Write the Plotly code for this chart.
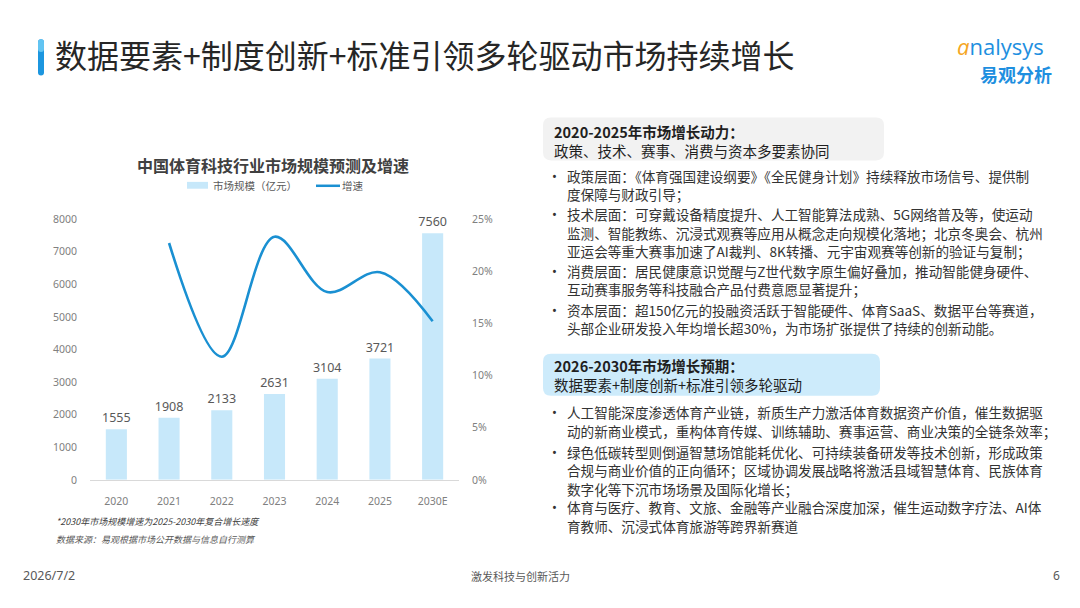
import plotly.graph_objects as go

W, H = 1080, 608

# ---------------- data ----------------
years = ["2020", "2021", "2022", "2023", "2024", "2025", "2030E"]
market_size = [1555, 1908, 2133, 2631, 3104, 3721, 7560]
growth_years = ["2021", "2022", "2023", "2024", "2025", "2030E"]
growth_rate = [0.227, 0.118, 0.233, 0.180, 0.199, 0.152]
left_ticks = [0, 1000, 2000, 3000, 4000, 5000, 6000, 7000, 8000]
right_ticks = [0, 0.05, 0.10, 0.15, 0.20, 0.25]

page_title = "数据要素+制度创新+标准引领多轮驱动市场持续增长"
chart_title = "中国体育科技行业市场规模预测及增速"
legend_bar = "市场规模（亿元）"
legend_line = "增速"
note1 = "*2030年市场规模增速为2025-2030年复合增长速度"
note2 = "数据来源：易观根据市场公开数据与信息自行测算"

box1_head = "2020-2025年市场增长动力："
box1_sub = "政策、技术、赛事、消费与资本多要素协同"
list1 = [
    (True, "政策层面：《体育强国建设纲要》《全民健身计划》持续释放市场信号、提供制"),
    (False, "度保障与财政引导；"),
    (True, "技术层面：可穿戴设备精度提升、人工智能算法成熟、5G网络普及等，使运动"),
    (False, "监测、智能教练、沉浸式观赛等应用从概念走向规模化落地；北京冬奥会、杭州"),
    (False, "亚运会等重大赛事加速了AI裁判、8K转播、元宇宙观赛等创新的验证与复制；"),
    (True, "消费层面：居民健康意识觉醒与Z世代数字原生偏好叠加，推动智能健身硬件、"),
    (False, "互动赛事服务等科技融合产品付费意愿显著提升；"),
    (True, "资本层面：超150亿元的投融资活跃于智能硬件、体育SaaS、数据平台等赛道，"),
    (False, "头部企业研发投入年均增长超30%，为市场扩张提供了持续的创新动能。"),
]
list1_y = [173, 191.5, 212, 231, 250, 270, 289, 310.5, 329]

box2_head = "2026-2030年市场增长预期："
box2_sub = "数据要素+制度创新+标准引领多轮驱动"
list2 = [
    (True, "人工智能深度渗透体育产业链，新质生产力激活体育数据资产价值，催生数据驱"),
    (False, "动的新商业模式，重构体育传媒、训练辅助、赛事运营、商业决策的全链条效率；"),
    (True, "绿色低碳转型则倒逼智慧场馆能耗优化、可持续装备研发等技术创新，形成政策"),
    (False, "合规与商业价值的正向循环；区域协调发展战略将激活县域智慧体育、民族体育"),
    (False, "数字化等下沉市场场景及国际化增长；"),
    (True, "体育与医疗、教育、文旅、金融等产业融合深度加深，催生运动数字疗法、AI体"),
    (False, "育教师、沉浸式体育旅游等跨界新赛道"),
]
list2_y = [415, 434, 455, 474, 493, 512, 531]

footer_date = "2026/7/2"
footer_mid = "激发科技与创新活力"
footer_page = "6"

# ---------------- style ----------------
CJK = "Noto Sans CJK SC"
BAR_C = "#C7E8FA"
LINE_C = "#1A90D2"
TXT = "#2B2B2B"
AX = "#808080"
BODY = 13.6


def px(x):
    return x / W


def py(y):
    return 1 - y / H


fig = go.Figure()

fig.add_trace(go.Bar(
    x=years, y=market_size, marker=dict(color=BAR_C, line=dict(width=0)),
    width=0.4, text=[str(v) for v in market_size], textposition="outside",
    constraintext="none",
    textfont=dict(family="Noto Sans", size=12.5, color="#595959"),
    cliponaxis=False, yaxis="y", showlegend=False,
))
fig.add_trace(go.Scatter(
    x=growth_years, y=growth_rate, mode="lines",
    line=dict(color=LINE_C, width=2.6, shape="spline", smoothing=1.0),
    yaxis="y2", showlegend=False,
))

ann = []
shapes = []


def text(x, y, s, size, color=TXT, bold=False, anchor="left", italic=False,
         family=CJK, yanchor="middle"):
    st = "<b>%s</b>" % s if bold else s
    if italic:
        st = "<i>%s</i>" % st
    ann.append(dict(x=px(x), y=py(y), xref="paper", yref="paper", text=st,
                    showarrow=False, xanchor=anchor, yanchor=yanchor, align="left",
                    borderpad=0,
                    font=dict(family=family, size=size, color=color)))


def rrect(x0, y0, x1, y1, r, fill):
    def P(x, y):
        return "%.5f,%.5f" % (px(x), py(y))
    path = ("M" + P(x0 + r, y0) + " L" + P(x1 - r, y0) + " Q" + P(x1, y0) + " " + P(x1, y0 + r) +
            " L" + P(x1, y1 - r) + " Q" + P(x1, y1) + " " + P(x1 - r, y1) +
            " L" + P(x0 + r, y1) + " Q" + P(x0, y1) + " " + P(x0, y1 - r) +
            " L" + P(x0, y0 + r) + " Q" + P(x0, y0) + " " + P(x0 + r, y0) + " Z")
    shapes.append(dict(type="path", path=path, xref="paper", yref="paper",
                       fillcolor=fill, line=dict(width=0), layer="below"))


# page title + accent bar
rrect(38, 33, 44, 70, 3, "#1C96DF")
rrect(38, 33, 44, 46, 3, "#62C4F2")
text(54, 48, page_title, 32, color="#262626")

# logo
ann.append(dict(x=px(956), y=py(40), xref="paper", yref="paper", showarrow=False,
                xanchor="left", yanchor="middle", borderpad=0,
                text="<span style='color:#F5A623'><i>a</i></span><span style='color:#1E8FE0'>nalysys</span>",
                font=dict(family="Open Sans", size=22)))
text(1016, 68.5, "易观分析", 18, color="#1E8FE0", bold=True, anchor="center")

# chart title + legend
text(273, 162, chart_title, 16, color="#404040", bold=True, anchor="center")
shapes.append(dict(type="rect", xref="paper", yref="paper", x0=px(187), x1=px(208),
                   y0=py(186), y1=py(179), fillcolor=BAR_C, line=dict(width=0)))
text(212, 183, legend_bar, 10.5, color="#595959")
shapes.append(dict(type="line", xref="paper", yref="paper", x0=px(316), x1=px(340),
                   y0=py(183), y1=py(183), line=dict(color=LINE_C, width=2.5)))
text(341, 183, legend_line, 10.5, color="#595959")

# notes
text(55, 527, note1, 9, color="#404040", italic=True)
text(55, 545, note2, 9, color="#595959", italic=True)

# right panel
rrect(543, 113, 884, 157, 8, "#F2F2F2")
text(553, 137, "<b>%s</b><br>%s" % (box1_head, box1_sub), 14.5, color="#1F1F1F")
for (b, s), y in zip(list1, list1_y):
    if b:
        text(551, y, "•", 13, color="#333333", family="Noto Sans")
    text(566, y, s, BODY, color="#333333")

rrect(543, 355, 880, 398, 8, "#CDEBFB")
text(553, 376.5, "<b>%s</b><br>%s" % (box2_head, box2_sub), 14.5, color="#1F1F1F")
for (b, s), y in zip(list2, list2_y):
    if b:
        text(551, y, "•", 13, color="#333333", family="Noto Sans")
    text(566, y, s, BODY, color="#333333")

# footer
text(22, 582, footer_date, 12.5, color="#595959", family="Noto Sans")
text(520, 582, footer_mid, 11, color="#595959", anchor="center")
text(1056, 582, footer_page, 12, color="#595959", anchor="center", family="Noto Sans")

tickfont = dict(family="Noto Sans", size=10.5, color=AX)
fig.update_layout(
    width=W, height=H, margin=dict(l=0, r=0, t=0, b=0),
    paper_bgcolor="white", plot_bgcolor="white",
    showlegend=False, bargap=0.6,
    xaxis=dict(domain=[px(90), px(459)], type="category", showgrid=False,
               showline=True, linecolor="#D9D9D9", linewidth=1, ticks="",
               tickfont=tickfont, ticklabelstandoff=12, fixedrange=True),
    yaxis=dict(domain=[py(484), py(217)], range=[0, 8000], tickvals=left_ticks,
               showgrid=False, zeroline=False, showline=False, ticks="",
               tickfont=tickfont, ticklabelstandoff=12),
    yaxis2=dict(domain=[py(484), py(217)], range=[0, 0.25], tickvals=right_ticks,
                tickformat=".0%", overlaying="y", side="right", anchor="x",
                showgrid=False, zeroline=False, showline=False, ticks="",
                tickfont=tickfont, ticklabelstandoff=12),
    annotations=ann, shapes=shapes,
)

fig.write_html("out.html")
